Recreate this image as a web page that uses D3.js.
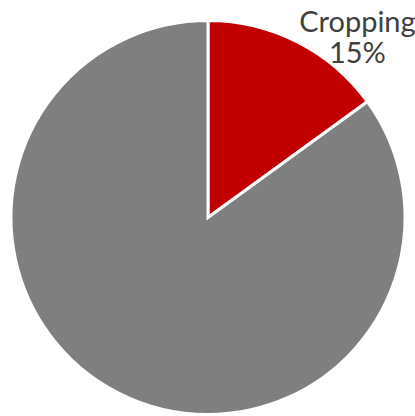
<!DOCTYPE html>
<html>
<head>
<meta charset="utf-8">
<script src="https://cdn.jsdelivr.net/npm/d3@7"></script>
<style>
  body { margin: 0; background: #fff; }
  svg { display: block; }
</style>
</head>
<body>
<svg id="chart"></svg>
<script>
// Data
const categories = ['Cropping', 'Other']
const values = [15, 85]
const colors = ['#C00000', '#7F7F7F']
const showLabel = [true, false]

const width = 415
const height = 416
const cx = 208
const cy = 217.5
const radius = 197

const svg = d3.select('#chart')
  .attr('width', width)
  .attr('height', height)

const g = svg.append('g')
  .attr('transform', `translate(${cx}, ${cy})`)

const pie = d3.pie().sort(null).value((d, i) => values[i])
const arcs = pie(categories)

const arc = d3.arc().innerRadius(0).outerRadius(radius)

g.selectAll('path')
  .data(arcs)
  .join('path')
  .attr('d', arc)
  .attr('fill', (d, i) => colors[i])
  .attr('stroke', '#fff')
  .attr('stroke-width', 3)
  .attr('stroke-linejoin', 'miter')

// label for the cropping slice, sits outside top right
const labels = g.selectAll('text.label')
  .data(arcs.filter((d, i) => showLabel[i]))
  .join('text')
  .attr('class', 'label')
  .attr('text-anchor', 'middle')
  .attr('font-family', 'Lato, sans-serif')
  .attr('font-size', 29)
  .attr('fill', '#404040')
  .attr('transform', d => {
    const a = (d.startAngle + d.endAngle) / 2
    const r = radius * 0.955
    return `translate(${Math.sin(a) * r + 64}, ${-Math.cos(a) * r - 18})`
  })

labels.append('tspan')
  .attr('x', 0)
  .attr('dy', 0)
  .text(d => d.data)

labels.append('tspan')
  .attr('x', 0)
  .attr('dy', 31)
  .text(d => d3.format('.0%')(d.value / d3.sum(values)))
</script>
</body>
</html>
